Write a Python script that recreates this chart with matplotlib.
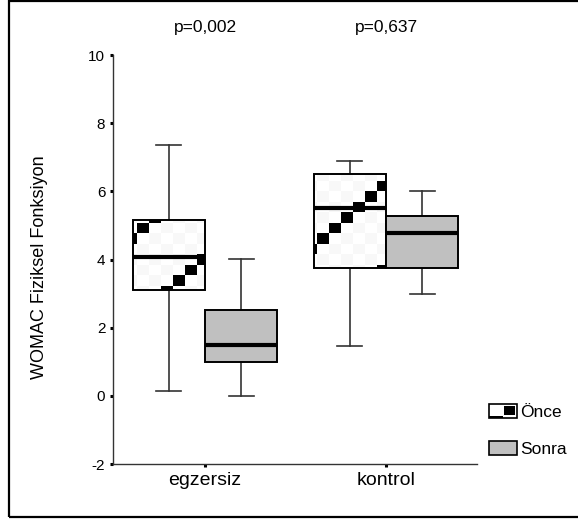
import numpy as np
import matplotlib
matplotlib.use('Agg')
import matplotlib.pyplot as plt
from matplotlib.patches import Rectangle
from matplotlib.legend_handler import HandlerBase

plt.rcParams['font.family'] = ['Liberation Sans', 'DejaVu Sans']

groups = ['egzersiz', 'kontrol']
p_values = ['p=0,002', 'p=0,637']
series = ['Önce', 'Sonra']

# whislo, q1, median, q3, whishi
once_stats = [[0.14, 3.10, 4.08, 5.15, 7.36],
              [1.46, 3.75, 5.51, 6.51, 6.89]]
sonra_stats = [[0.00, 1.00, 1.50, 2.52, 4.01],
               [3.00, 3.75, 4.78, 5.27, 6.00]]

yticks = [-2, 0, 2, 4, 6, 8, 10]


def to_bxp(vals, label):
    lo, q1, med, q3, hi = vals
    return {'whislo': lo, 'q1': q1, 'med': med, 'q3': q3, 'whishi': hi,
            'fliers': [], 'label': label}


class OnceHandler(HandlerBase):
    def create_artists(self, legend, orig_handle, xdescent, ydescent,
                       width, height, fontsize, trans):
        bg = Rectangle((-xdescent, -ydescent), width, height, facecolor='white',
                       edgecolor='black', lw=1.2, transform=trans)
        sq = Rectangle((-xdescent + width * 0.55, -ydescent + height * 0.2),
                       width * 0.38, height * 0.65, facecolor='black',
                       edgecolor='none', transform=trans)
        st = Rectangle((-xdescent, -ydescent), width * 0.5, height * 0.15,
                       facecolor='black', edgecolor='none', transform=trans)
        return [bg, sq, st]


fig = plt.figure(figsize=(5.78, 5.22), dpi=100)
ax = fig.add_axes([113 / 578, 1 - 464 / 522, 364 / 578, 409 / 522])

pos = np.arange(1, len(groups) + 1)
w = 0.4
xlim = (1 - 92 / 181, 2 + 91 / 181)

whisk = dict(color='#333333', lw=1.2)
common = dict(widths=w, patch_artist=True, showfliers=False,
              whiskerprops=whisk, capprops=whisk,
              medianprops=dict(color='black', lw=3, solid_capstyle='butt', zorder=4))

b1 = ax.bxp([to_bxp(v, g) for v, g in zip(once_stats, groups)],
            positions=pos - w / 2,
            boxprops=dict(facecolor='none', edgecolor='black', lw=1.4, zorder=3),
            **common)
b2 = ax.bxp([to_bxp(v, g) for v, g in zip(sonra_stats, groups)],
            positions=pos + w / 2,
            boxprops=dict(facecolor='#c0c0c0', edgecolor='black', lw=1.4, zorder=3),
            **common)
for c in b1['caps'] + b2['caps']:
    x = c.get_xdata()
    m = x.mean()
    c.set_xdata([m - 0.7 * (m - x[0]), m + 0.7 * (x[1] - m)])

# staircase fill pattern for the "Önce" boxes
ncols, nrows = 31, 39
cw = 12 / 181
ch = 12 / nrows
cc, rr = np.meshgrid(np.arange(ncols), np.arange(nrows))
pattern = ((cc - rr) % 8 == 4).astype(float)
pattern[((cc + rr) % 2 == 0) & (pattern == 0)] = 0.03
for box in b1['boxes']:
    im = ax.imshow(pattern, cmap='gray_r', vmin=0, vmax=1, origin='lower',
                   interpolation='nearest', aspect='auto', zorder=2,
                   extent=(xlim[0], xlim[0] + ncols * cw, -2, 10))
    im.set_clip_path(box)

ax.set_xlim(*xlim)
ax.set_ylim(-2, 10)
ax.set_xticks(pos)
ax.set_xticklabels(groups, fontsize=14)
ax.set_yticks(yticks)
ax.set_yticklabels([str(t) for t in yticks], fontsize=11)
ax.tick_params(axis='both', length=2.5, width=2.2, color='black', pad=3)
for s in ['top', 'right']:
    ax.spines[s].set_visible(False)
for s in ['left', 'bottom']:
    ax.spines[s].set_color('#333333')
    ax.spines[s].set_linewidth(1.0)

for x, p in zip(pos, p_values):
    ax.text(x, 10.82, p, ha='center', va='center', fontsize=12.5, clip_on=False)

fig.text(40 / 578, 1 - 267 / 522, 'WOMAC Fiziksel Fonksiyon', rotation=90,
         ha='center', va='center', fontsize=13)

h_once = Rectangle((0, 0), 1, 1, facecolor='white', edgecolor='black')
h_sonra = Rectangle((0, 0), 1, 1, facecolor='#c0c0c0', edgecolor='black', lw=1.2)
fig.legend([h_once, h_sonra], series, loc='upper left',
           bbox_to_anchor=(489 / 578, 1 - 404 / 522), frameon=False,
           fontsize=12.5, handlelength=1.6, handleheight=0.85,
           handletextpad=0.2, labelspacing=1.2, borderpad=0, borderaxespad=0,
           handler_map={h_once: OnceHandler()})

fig.add_artist(Rectangle((8.5 / 578, 1 - 516.5 / 522), 1.0, 515.5 / 522,
                         transform=fig.transFigure, fill=False, lw=1.6,
                         edgecolor='black'))

fig.savefig('out.png', dpi=100)
